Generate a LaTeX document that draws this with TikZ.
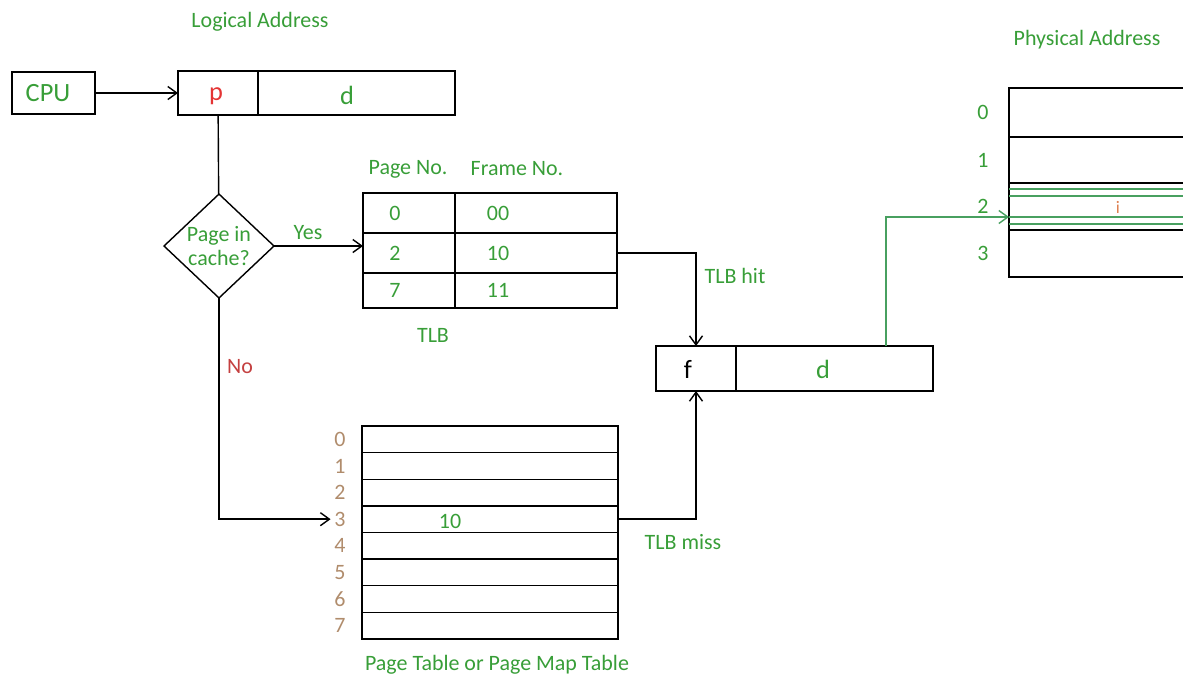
\documentclass[tikz,border=0pt]{standalone}
\usepackage{fontspec}
\setmainfont{Carlito}
\usetikzlibrary{arrows.meta,positioning,shapes.geometric}
\definecolor{lblgreen}{RGB}{56,158,56}
\definecolor{pred}{RGB}{228,52,52}
\definecolor{nored}{RGB}{196,64,64}
\definecolor{idxbrown}{RGB}{176,140,108}
\definecolor{framegreen}{RGB}{72,160,96}
\definecolor{dotorange}{RGB}{222,128,80}

\begin{document}
\begin{tikzpicture}[
    x=0.02cm, y=-0.02cm,
    font=\fontsize{12.5}{14}\selectfont,
    box/.style={draw, line width=0.8pt, inner sep=0pt, outer sep=0pt},
    txt/.style={text=lblgreen, inner sep=0pt},
    idx/.style={text=idxbrown, inner sep=0pt},
    big/.style={font=\fontsize{15}{17}\selectfont},
    arr/.style={-{Straight Barb[length=1.8mm,width=2.6mm]}, line width=0.8pt}
  ]
  \useasboundingbox (0,0) rectangle (1183,674);

  % logical address
  \node[txt] (lahead) at (260,22) {Logical Address};
  \node[box, minimum width=1.66cm, minimum height=0.84cm] (cpu) at (53.5,93) {};
  \node[txt, big] (cputxt) at (48,93) {CPU};
  \node[box, minimum width=1.6cm, minimum height=0.88cm] (pcell) at (218,93) {};
  \node[big, text=pred, inner sep=0pt] (ptxt) at (216,96) {p};
  \node[box, minimum width=3.94cm, minimum height=0.88cm] (dcell) at (356.5,93) {};
  \node[txt, big] (dtxt) at (347,95) {d};
  \draw[arr] (cpu) -- (pcell);

  % TLB lookup
  \node[box, diamond, text=lblgreen, align=center, minimum width=2.2cm, minimum height=2.04cm] (cache) at (219,246) {Page in\\cache?};
  \draw[line width=0.8pt] (pcell) -- (cache);
  \node[txt] (yes) at (308,233) {Yes};
  \node[txt] (pghead) at (408,169) {Page No.};
  \node[txt] (frhead) at (517,169) {Frame No.};
  \foreach \r/\yc/\h/\pg/\fr in {0/213/0.8/0/00, 1/253/0.8/2/10, 2/290.5/0.7/7/11} {
    \node[box, minimum width=1.84cm, minimum height=\h cm] (tlbp\r) at (409,\yc) {};
    \node[box, minimum width=3.24cm, minimum height=\h cm] (tlbf\r) at (536,\yc) {};
    \node[txt] (tlbpn\r) at (395,\yc) {\pg};
    \node[txt] (tlbfn\r) at (498,\yc) {\fr};
  }
  \node[txt] (tlblbl) at (433,335) {TLB};
  \draw[arr] (cache.east) -- (cache.east -| tlbp0.west);

  % frame + offset
  \node[box, big, minimum width=1.6cm, minimum height=0.9cm] (fcell) at (696,368.5) {};
  \node[big, inner sep=0pt] (ftxt) at (688,369) {f};
  \node[box, big, text=lblgreen, minimum width=3.94cm, minimum height=0.9cm] (fdcell) at (834.5,368.5) {};
  \node[txt, big] (fdtxt) at (823,369) {d};
  \draw[arr] (tlbf1.east) -| (fcell.north);
  \node[txt] (hit) at (735,276) {TLB hit};

  % page table
  \foreach \i in {0,...,7} {
    \node[box, minimum width=5.12cm, minimum height=0.5325cm] (pt\i) at (490,{439.3+26.625*\i}) {};
    \node[idx] (ix\i) at (340,{439.3+26.625*\i}) {\i};
  }
  \node[txt] (ten) at (450,521) {10};
  \node[txt] (pttitle) at (497,665) {Page Table or Page Map Table};
  \node[text=nored, inner sep=0pt] (no) at (240,367) {No};
  \draw[arr, shorten >=2pt] (cache.south) |- (ix3.west);
  \draw[arr] (pt3.east) -| (fcell.south);
  \node[txt] (miss) at (683,542) {TLB miss};

  % physical memory
  \node[txt] (pahead) at (1087,40) {Physical Address};
  \foreach \k/\yc/\h in {0/112.5/0.98, 1/160/0.92, 2/206.5/0.94, 3/253.5/0.94} {
    \node[box, minimum width=3.8cm, minimum height=\h cm] (fr\k) at (1104,\yc) {};
    \node[txt] (fn\k) at (983,\yc) {\k};
  }
  \foreach \g in {189,196,217,224}
    \draw[framegreen, line width=0.6pt] (1009,\g) -- (1200,\g);
  \node[text=dotorange, inner sep=0pt, font=\fontsize{10}{11}\selectfont] (dot) at (1118,207) {i};
  \coordinate (dtap) at ([xshift=1.03cm]fdcell.north);
  \coordinate (pin) at ([yshift=-0.21cm]fr2.west);
  \draw[arr, framegreen] (dtap) |- (pin);
\end{tikzpicture}
\end{document}
